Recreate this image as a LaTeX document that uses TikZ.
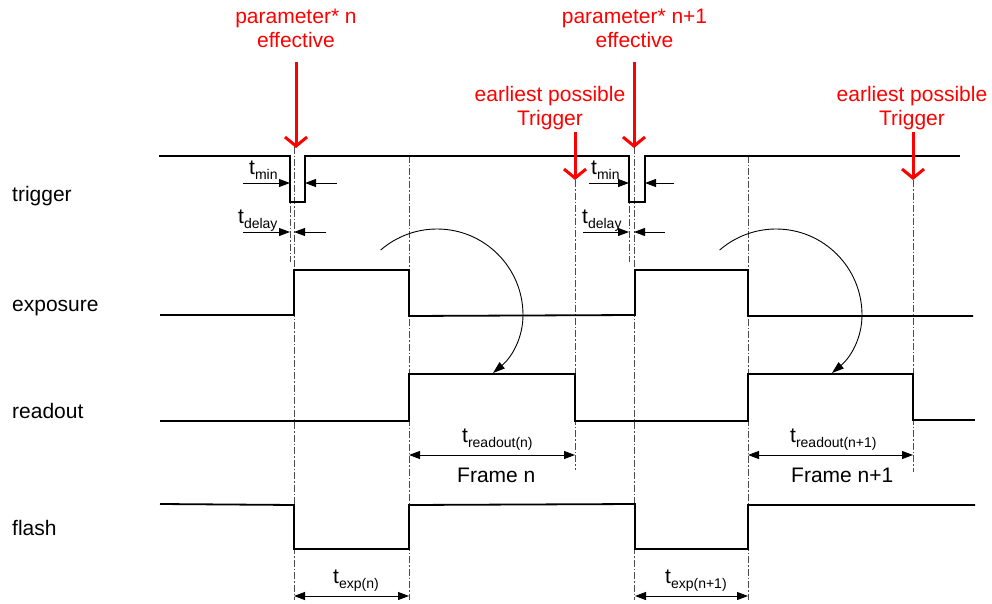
\documentclass[tikz,border=0pt]{standalone}
\usepackage{fontspec}
\setmainfont{Liberation Sans}
\usetikzlibrary{arrows.meta}
\newcommand\tlab[1]{t\raisebox{-5pt}{\fontsize{14}{14}\selectfont #1}}
\begin{document}
\begin{tikzpicture}[x=1pt,y=-1pt,
  sig/.style={line width=1.8pt,line join=miter},
  guide/.style={line width=0.8pt,black!70,dash pattern=on 7pt off 2pt on 1.5pt off 2pt},
  redarrow/.style={red,line width=3pt,-{Straight Barb[length=9pt,width=22pt,line width=3pt]}},
  dim/.style={line width=0.9pt,{Triangle[length=11pt,width=8pt]}-{Triangle[length=11pt,width=8pt]}},
  pin/.style={line width=0.9pt,-{Triangle[length=11pt,width=8pt]}},
  curv/.style={line width=0.9pt,-{Triangle[length=12pt,width=8pt]}},
  lab/.style={font=\fontsize{21}{22}\selectfont,inner sep=0pt},
  redlab/.style={font=\fontsize{21}{24}\selectfont,red,align=center,inner sep=0pt,anchor=base}]
\useasboundingbox (0,0) rectangle (992,604);

% guides
\draw[guide] (290,156) -- (290,262);
\draw[guide] (294,147) -- (294,600);
\draw[guide] (409,156) -- (409,600);
\draw[guide] (575,180) -- (575,470);
\draw[guide] (629,156) -- (629,262);
\draw[guide] (634,147) -- (634,600);
\draw[guide] (748,156) -- (748,600);
\draw[guide] (913,180) -- (913,472);

% signals
\draw[sig] (159,156) -- (290,156) -- (290,202) -- (305,202) -- (305,156) -- (629,156) -- (629,202) -- (645,202) -- (645,156) -- (960,156);
\draw[sig] (160,315) -- (294,315) -- (294,270) -- (409,270) -- (409,316) -- (635,315) -- (635,270) -- (748,270) -- (748,316) -- (973,316);
\draw[sig] (160,421) -- (409,421) -- (409,374) -- (575,374) -- (575,421) -- (748,421) -- (748,374) -- (913,374) -- (913,420) -- (975,420);
\draw[sig] (160,504) -- (294,505) -- (294,549) -- (409,549) -- (409,505) -- (635,504) -- (635,549) -- (748,549) -- (748,505) -- (975,505);

% signal names
\node[lab,anchor=base west] (ltrig) at (12,201) {trigger};
\node[lab,anchor=base west] (lexp) at (12,311) {exposure};
\node[lab,anchor=base west] (lread) at (12,418) {readout};
\node[lab,anchor=base west] (lflash) at (12,535) {flash};

% red labels and arrows
\node[redlab] (p1) at (296,48) {parameter* n\\effective};
\node[redlab] (p2) at (634.5,48) {parameter* n+1\\effective};
\node[redlab] (e1) at (550,126) {earliest possible\\Trigger};
\node[redlab] (e2) at (912,126) {earliest possible\\Trigger};
\coordinate (p1s) at (296,62); \coordinate (p1e) at (296,148);
\coordinate (p2s) at (634,62); \coordinate (p2e) at (634,148);
\coordinate (e1s) at (575,132); \coordinate (e1e) at (575,180);
\coordinate (e2s) at (913,132); \coordinate (e2e) at (913,180);
\draw[redarrow] (p1s) -- (p1e);
\draw[redarrow] (p2s) -- (p2e);
\draw[redarrow] (e1s) -- (e1e);
\draw[redarrow] (e2s) -- (e2e);

% t_min / t_delay pins
\node[lab,anchor=base west] (tmin1) at (249,175) {\tlab{min}};
\node[lab,anchor=base west] (tdel1) at (238,223) {\tlab{delay}};
\node[lab,anchor=base west] (tmin2) at (591,175) {\tlab{min}};
\node[lab,anchor=base west] (tdel2) at (582,223) {\tlab{delay}};
\coordinate (a1) at (243,183); \coordinate (a1e) at (290,183);
\coordinate (a2) at (337,183); \coordinate (a2e) at (305,183);
\coordinate (b1) at (243,232); \coordinate (b1e) at (290,232);
\coordinate (b2) at (326,232); \coordinate (b2e) at (294,232);
\coordinate (c1) at (589,183); \coordinate (c1e) at (629,183);
\coordinate (c2) at (674,183); \coordinate (c2e) at (645,183);
\coordinate (d1) at (583,232); \coordinate (d1e) at (629,232);
\coordinate (d2) at (665,232); \coordinate (d2e) at (634,232);
\foreach \s/\e in {a1/a1e,a2/a2e,b1/b1e,b2/b2e,c1/c1e,c2/c2e,d1/d1e,d2/d2e}
  \draw[pin] (\s) -- (\e);

% curved arrows
\draw[curv] (380.6,250.1) .. controls (396.2,236.5) and (416.3,229) .. (437,229)
  .. controls (484.5,229) and (523,267.5) .. (523,315)
  .. controls (523,337.8) and (512,357) .. (493,373);
\draw[curv] (719.6,250.1) .. controls (735.2,236.5) and (755.3,229) .. (776,229)
  .. controls (823.5,229) and (862,267.5) .. (862,315)
  .. controls (862,337.8) and (851,357) .. (832,373);

% dimensions
\coordinate (r1a) at (409,455); \coordinate (r1b) at (575,455);
\coordinate (r2a) at (748,455); \coordinate (r2b) at (913,455);
\coordinate (x1a) at (294,596); \coordinate (x1b) at (409,596);
\coordinate (x2a) at (635,596); \coordinate (x2b) at (748,596);
\draw[dim] (r1a) -- (r1b);
\draw[dim] (r2a) -- (r2b);
\draw[dim] (x1a) -- (x1b);
\draw[dim] (x2a) -- (x2b);
\node[lab,anchor=base west] (tr1) at (462,442) {\tlab{readout(n)}};
\node[lab,anchor=base west] (tr2) at (790,442) {\tlab{readout(n+1)}};
\node[lab,anchor=base west] (te1) at (333,583) {\tlab{exp(n)}};
\node[lab,anchor=base west] (te2) at (665,583) {\tlab{exp(n+1)}};
\node[lab,anchor=base west] (f1) at (457,482) {Frame n};
\node[lab,anchor=base west] (f2) at (791,482) {Frame n+1};
\end{tikzpicture}
\end{document}
